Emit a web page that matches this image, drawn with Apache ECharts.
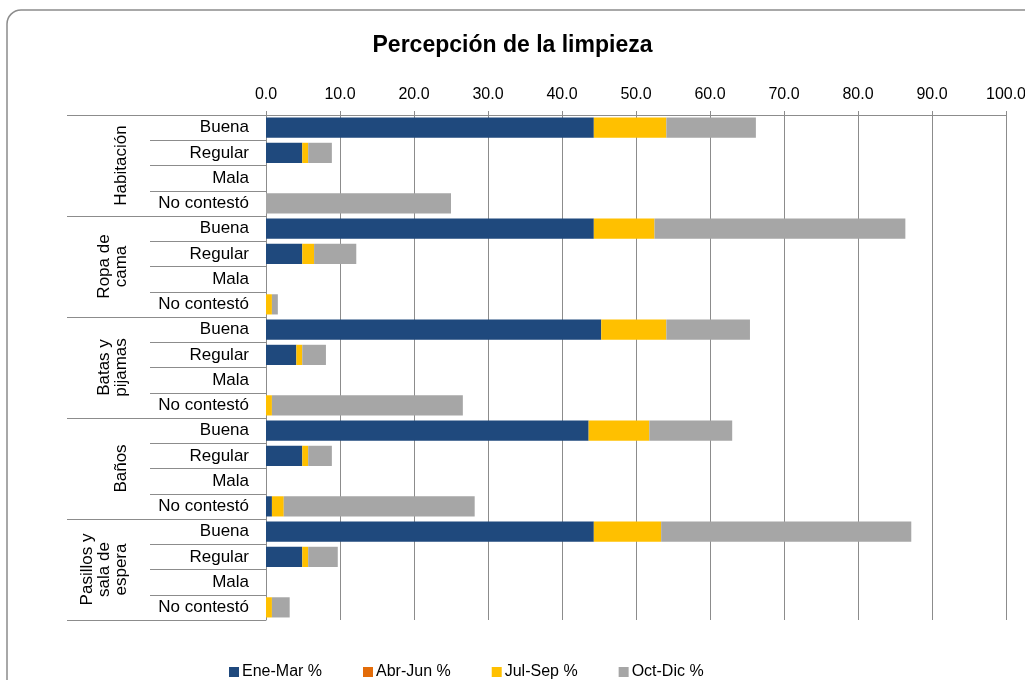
<!DOCTYPE html>
<html>
<head>
<meta charset="utf-8">
<script src="https://cdn.jsdelivr.net/npm/echarts@6/dist/echarts.min.js"></script>
<style>
  html, body { margin: 0; padding: 0; background: #fff; }
  #chart { width: 1025px; height: 680px; }
</style>
</head>
<body>
<div id="chart"></div>
<script>
// categorías (filas) y grupos
const groups = ['Habitación', 'Ropa de\ncama', 'Batas y\npijamas', 'Baños', 'Pasillos y\nsala de\nespera'];
const answers = ['Buena', 'Regular', 'Mala', 'No contestó'];
const categories = [];
groups.forEach(() => answers.forEach(a => categories.push(a)));

// valores % por trimestre
const eneMar = [44.3, 4.9, 0, 0,   44.3, 4.9, 0, 0,   45.3, 4.1, 0, 0,   43.6, 4.9, 0, 0.8,  44.3, 4.9, 0, 0];
const abrJun = [0, 0, 0, 0,        0, 0, 0, 0,        0, 0, 0, 0,        0, 0, 0, 0,         0, 0, 0, 0];
const julSep = [9.8, 0.8, 0, 0,    8.2, 1.6, 0, 0.8,  8.8, 0.8, 0, 0.8,  8.2, 0.8, 0, 1.6,   9.1, 0.8, 0, 0.8];
const octDic = [12.1, 3.2, 0, 25.0, 33.9, 5.7, 0, 0.8, 11.3, 3.2, 0, 25.8, 11.2, 3.2, 0, 25.8, 33.8, 4.0, 0, 2.4];

const xTicks = { min: 0, max: 100, interval: 10 };

const chart = echarts.init(document.getElementById('chart'));
const font = 'Liberation Sans, Arial, sans-serif';

function bar(name, data, color) {
  return {
    name: name,
    type: 'bar',
    stack: 'total',
    yAxisIndex: 0,
    barCategoryGap: '20%',
    data: data,
    itemStyle: { color: color },
    animation: false
  };
}

const option = {
  textStyle: { fontFamily: font, color: '#000' },
  title: {
    text: 'Percepción de la limpieza',
    left: 'center',
    top: 29,
    textStyle: { fontFamily: font, fontSize: 23, fontWeight: 'bold', color: '#000' }
  },
  graphic: [{
    type: 'rect',
    shape: { x: 7, y: 10, width: 1100, height: 720, r: 14 },
    style: { fill: 'none', stroke: '#8c8c8c', lineWidth: 1.5 },
    silent: true,
    z: -1
  }],
  legend: {
    left: 224,
    top: 659,
    itemWidth: 10,
    itemHeight: 10,
    itemGap: 41,
    icon: 'rect',
    textStyle: { fontFamily: font, fontSize: 16, color: '#000', padding: [0, 0, 0, -2] },
    data: ['Ene-Mar %', 'Abr-Jun %', 'Jul-Sep %', 'Oct-Dic %']
  },
  grid: { left: 266, right: 19, top: 115, bottom: 60, outerBoundsMode: 'none', containLabel: false },
  xAxis: {
    type: 'value',
    position: 'top',
    min: xTicks.min,
    max: xTicks.max,
    interval: xTicks.interval,
    axisLine: { show: true, lineStyle: { color: '#8c8c8c' } },
    axisTick: { show: true, length: 4, lineStyle: { color: '#8c8c8c' } },
    splitLine: { show: true, lineStyle: { color: '#8c8c8c' } },
    axisLabel: {
      fontFamily: font, fontSize: 16, color: '#000', margin: 12,
      formatter: v => v.toFixed(1)
    }
  },
  yAxis: [{
    type: 'category',
    inverse: true,
    data: categories,
    axisLine: { show: true, lineStyle: { color: '#8c8c8c' } },
    axisTick: { show: true, interval: 0, length: 116, lineStyle: { color: '#8c8c8c' } },
    axisLabel: { interval: 0, fontFamily: font, fontSize: 17, color: '#000', margin: 17 }
  }, {
    type: 'category',
    inverse: true,
    position: 'left',
    data: groups,
    axisLine: { show: false },
    axisTick: { show: true, interval: 0, length: 199, lineStyle: { color: '#8c8c8c' } },
    axisLabel: {
      interval: 0, hideOverlap: false,
      fontFamily: font, fontSize: 17, color: '#000', rotate: 90,
      margin: 136, lineHeight: 17, align: 'center'
    }
  }],
  series: [
    bar('Ene-Mar %', eneMar, '#1f497d'),
    bar('Abr-Jun %', abrJun, '#e36c09'),
    bar('Jul-Sep %', julSep, '#ffc000'),
    bar('Oct-Dic %', octDic, '#a6a6a6')
  ]
};
chart.setOption(option);
</script>
</body>
</html>
